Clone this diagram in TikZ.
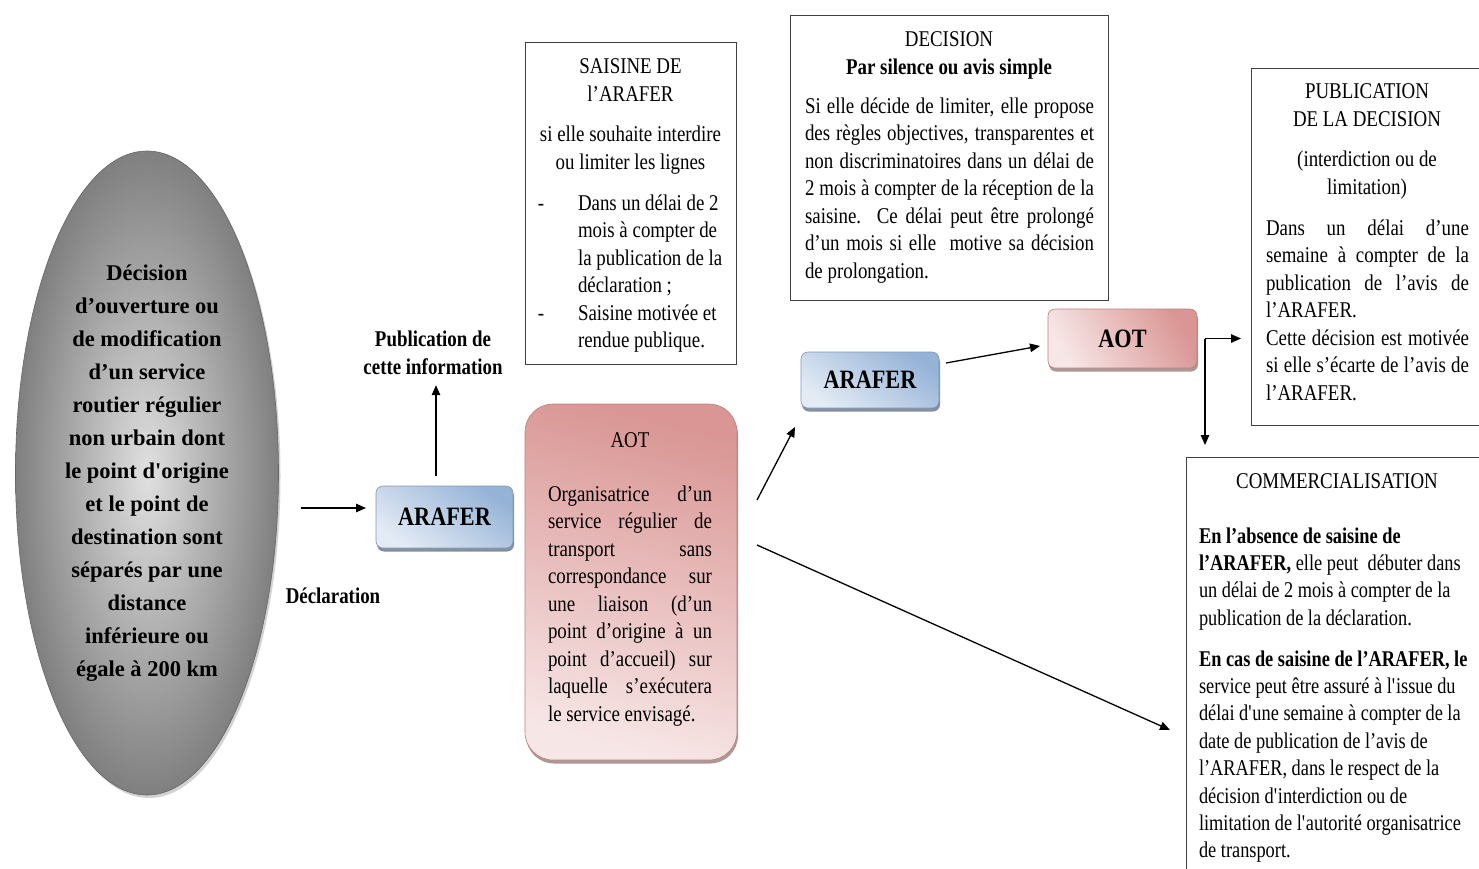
\documentclass[tikz,border=0pt]{standalone}
\usepackage{fontspec}
\setmainfont{Liberation Serif}[FakeStretch=0.84]
\newfontfamily\ellfont{Liberation Serif}
\newfontfamily\commfont{Liberation Serif}[FakeStretch=0.815]
\usetikzlibrary{arrows.meta,shadows,shapes.geometric}
\definecolor{blueD}{HTML}{95B3D7}
\definecolor{blueL}{HTML}{E3EBF5}
\definecolor{pinkD}{HTML}{D99694}
\definecolor{pinkL}{HTML}{F7E6E6}
\newcommand\J[1]{\makebox[\hsize][s]{#1}\\}
\begin{document}
\begin{tikzpicture}[x=1pt,y=-1pt,
  every node/.style={inner sep=0pt,outer sep=0pt,font=\fontsize{22.5}{27.5}\selectfont},
  bf/.style={font=\fontsize{22.5}{27.5}\selectfont\bfseries},
  frame/.style={draw=black!75,line width=0.9pt,fill=white},
  arr/.style={line width=1.3pt,-{Triangle[length=10pt,width=8.5pt]}},
  bluebox/.style={rounded corners=7pt,draw=blueD!85!black,line width=0.6pt,
    top color=blueD,bottom color=blueL,shading angle=-35,
    drop shadow={shadow xshift=1pt,shadow yshift=-3.5pt,fill=blueD!55!black,opacity=0.7},
    font=\fontsize{26.5}{30}\selectfont\bfseries},
  pinkbox/.style={draw=pinkD!85!black,line width=0.6pt,
    top color=pinkD,bottom color=pinkL,
    drop shadow={shadow xshift=1pt,shadow yshift=-3.5pt,fill=pinkD!55!black,opacity=0.6}}
]
\clip (0,0) rectangle (1479,868);
\useasboundingbox (0,0) rectangle (1479,868);
\fill[white] (0,0) rectangle (1479,868);

% ellipse
\node[ellipse,minimum width=263pt,minimum height=644pt,draw=black!60,line width=0.6pt,
  inner color=black!12,outer color=black!50,
  drop shadow={shadow xshift=2pt,shadow yshift=-3pt,opacity=0.35},
  align=center,font=\fontsize{22.5}{33}\ellfont\bfseries] (ell) at (147,473)
  {Décision\\d’ouverture ou\\de modification\\d’un service\\routier régulier\\non urbain dont\\le point d\textquotesingle origine\\et le point de\\destination sont\\séparés par une\\distance\\inférieure ou\\égale à 200 km};

% ARAFER 1
\node[bluebox,minimum width=137pt,minimum height=62pt] (ar1) at (444.5,517) {ARAFER};
\node[bf,align=center,anchor=base] (pubinfo) at (433,374) {Publication de\\cette information};
\node[bf,anchor=base] (decl) at (333,603) {Déclaration};

% SAISINE box
\node[frame,minimum width=211pt,minimum height=322pt] (sai) at (630.5,203) {};
\node[align=center,anchor=base] (saiT) at (630.5,101) {SAISINE DE\\l’ARAFER};
\node[align=center,anchor=base] (saiS) at (630.5,169) {si elle souhaite interdire\\ou limiter les lignes};
\node[anchor=base] (dashA) at (541,210) {-};
\node[anchor=base] (dashB) at (541,320) {-};
\node[text width=170pt,align=flush left,anchor=base west] (saiL) at (578,210)
  {Dans un délai de 2\\mois à compter de\\la publication de la\\déclaration ;\\Saisine motivée et\\rendue publique.};

% AOT big
\node[pinkbox,rounded corners=28pt,shading angle=-15,minimum width=212pt,minimum height=356pt] (aot1) at (631,582) {};
\node[anchor=base] (aot1T) at (630,447) {AOT};
\node[text width=164pt,align=flush left,anchor=base west] (aot1B) at (548,501)
  {\J{Organisatrice d’un}\J{service régulier de}\J{transport sans}\J{correspondance sur}\J{une liaison (d’un}\J{point d’origine à un}\J{point d’accueil) sur}\J{laquelle s’exécutera}le service envisagé.};

% DECISION box
\node[frame,minimum width=318pt,minimum height=285pt] (dec) at (949,157.5) {};
\node[anchor=base] (decT) at (949,46) {DECISION};
\node[bf,anchor=base] (decS) at (949,74) {Par silence ou avis simple};
\node[text width=289pt,align=flush left,anchor=base west] (decB) at (805,113)
  {\J{Si elle décide de limiter, elle propose}\J{des règles objectives, transparentes et}\J{non discriminatoires dans un délai de}\J{2 mois à compter de la réception de la}\J{saisine. Ce délai peut être prolongé}\J{d’un mois si elle \ motive sa décision}de prolongation.};

% ARAFER 2 and AOT 2
\node[bluebox,minimum width=138pt,minimum height=56pt] (ar2) at (870,380) {ARAFER};
\node[pinkbox,rounded corners=7pt,shading angle=-60,minimum width=149pt,minimum height=59pt,
  font=\fontsize{26.5}{30}\selectfont\bfseries] (aot2) at (1122.5,338.5) {AOT};

% PUBLICATION box
\node[frame,minimum width=349pt,minimum height=357pt] (pubd) at (1425.5,246.5) {};
\node[align=center,anchor=base] (pubdT) at (1367,126) {PUBLICATION\\DE LA DECISION};
\node[align=center,anchor=base] (pubdS) at (1367,194) {(interdiction ou de\\limitation)};
\node[text width=203pt,align=flush left,anchor=base west] (pubdB) at (1266,235)
  {\J{Dans un délai d’une}\J{semaine à compter de la}\J{publication de l’avis de}l’ARAFER.\\\J{Cette décision est motivée}\J{si elle s’écarte de l’avis de}l’ARAFER.};

% COMMERCIALISATION box
\node[frame,minimum width=400pt,minimum height=500pt] (comm) at (1386,707) {};
\node[anchor=base] (commT) at (1337,488) {COMMERCIALISATION};
\node[text width=330pt,align=flush left,anchor=base west,font=\fontsize{22.5}{27.4}\commfont] (commB) at (1199,543)
  {\textbf{En l’absence de saisine de}\\\textbf{l’ARAFER,} elle peut \ débuter dans\\un délai de 2 mois à compter de la\\publication de la déclaration.\\[13.5pt]
   \textbf{En cas de saisine de l’ARAFER, le}\\service peut être assuré à l\textquotesingle issue du\\délai d\textquotesingle une semaine à compter de la\\date de publication de l’avis de\\l’ARAFER, dans le respect de la\\décision d\textquotesingle interdiction ou de\\limitation de l\textquotesingle autorité organisatrice\\de transport.};

% connectors
\draw[arr] ([shift={(22,35)}]ell.east) -- ([shift={(-10,-9)}]ar1.west);
\draw[arr] ([shift={(-8.5,-10)}]ar1.north) -- ([shift={(3,11)}]pubinfo.south);
\draw[arr] ([shift={(20,-82)}]aot1.east) -- ([shift={(-6,19)}]ar2.south west);
\draw[arr] ([shift={(20,-37)}]aot1.east) -- ([shift={(-16,23)}]comm.west);
\draw[arr] ([shift={(7,-17)}]ar2.east) -- ([shift={(-8,7.5)}]aot2.west);
\coordinate (corner) at ([xshift=8]aot2.east);
\draw[arr,shorten >=10pt] (corner) -- (corner -| pubd.west);
\draw[arr,shorten >=12pt] (corner) -- (corner |- comm.north);
\end{tikzpicture}
\end{document}
